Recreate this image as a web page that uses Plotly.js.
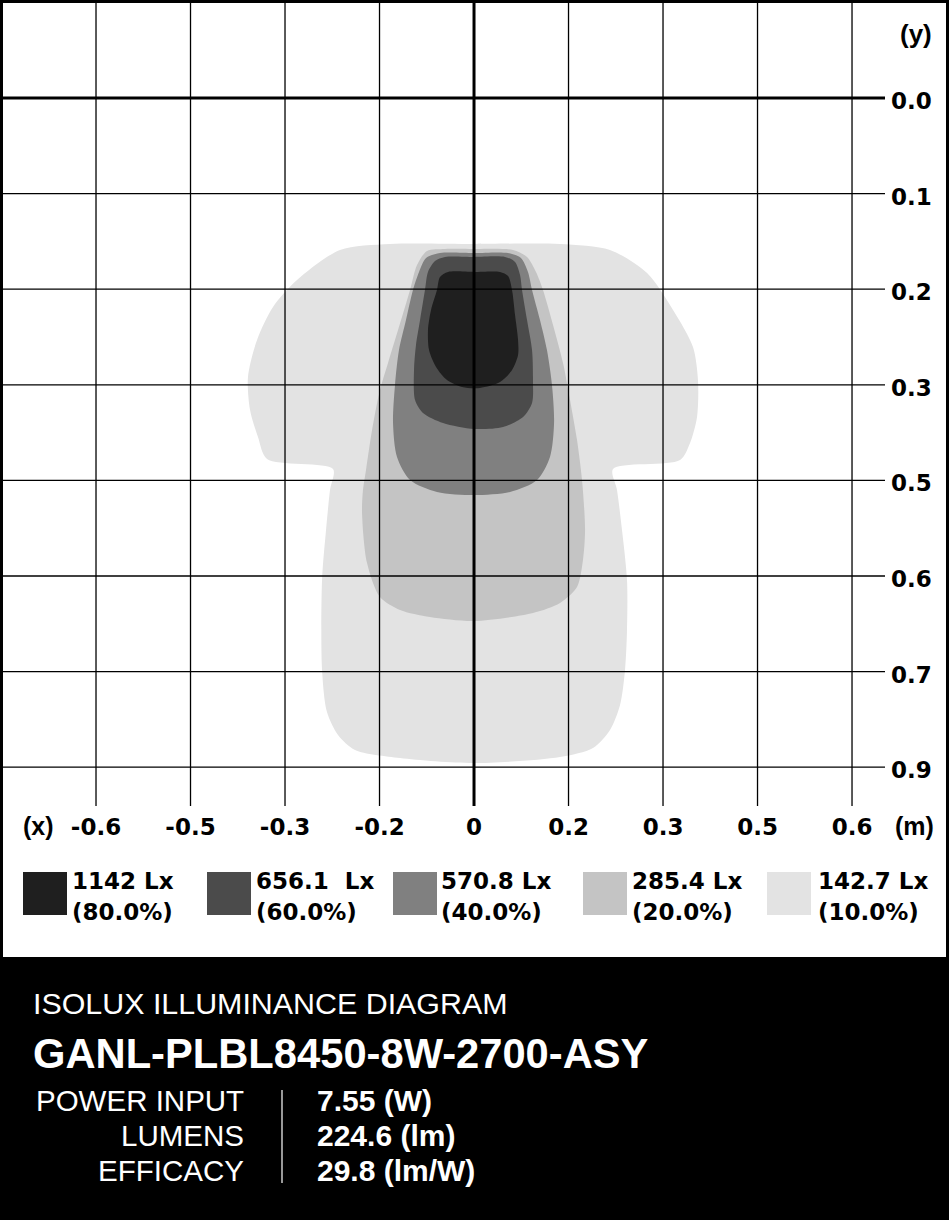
<!DOCTYPE html>
<html>
<head>
<meta charset="utf-8">
<script src="https://cdn.plot.ly/plotly-3.0.1.min.js"></script>
<style>html,body{margin:0;padding:0;background:#fff;}#chart{width:949px;height:1220px;}</style>
</head>
<body>
<div id="chart"></div>
<script>
// ---- Tick positions (grid index units) and labels ----
const xTickVals = [-4, -3, -2, -1, 0, 1, 2, 3, 4];
const xTickText = ['-0.6', '-0.5', '-0.3', '-0.2', '0', '0.2', '0.3', '0.5', '0.6'];
const yTickVals = [0, 1, 2, 3, 4, 5, 6, 7];
const yTickText = ['0.0', '0.1', '0.2', '0.3', '0.5', '0.6', '0.7', '0.9'];

// ---- Isolux contour outlines (grid index units) ----
const c10x = [0, 0.910, 1.439, 1.831, 2.106, 2.317, 2.370, 2.360, 2.286, 2.180, 1.471, 1.513, 1.566, 1.619, 1.619, 1.598, 1.545, 1.439, 1.259, 0.910, 0, -0.783, -1.259, -1.439, -1.556, -1.608, -1.608, -1.566, -1.524, -1.492, -2.190, -2.286, -2.370, -2.392, -2.296, -2.127, -1.873, -1.418, -0.889, 0];
const c10y = [1.527, 1.527, 1.590, 1.831, 2.218, 2.605, 2.950, 3.337, 3.609, 3.787, 3.881, 4.100, 4.519, 5.042, 5.565, 5.983, 6.349, 6.611, 6.799, 6.893, 6.956, 6.904, 6.820, 6.663, 6.423, 5.983, 5.042, 4.519, 4.100, 3.881, 3.776, 3.546, 3.264, 2.918, 2.531, 2.186, 1.904, 1.590, 1.527, 1.527];

const c20x = [0, 0.413, 0.561, 0.656, 0.730, 0.836, 0.942, 1.016, 1.090, 1.143, 1.175, 1.153, 1.090, 0.910, 0.624, 0, -0.466, -0.783, -0.995, -1.132, -1.185, -1.175, -1.143, -1.079, -0.995, -0.910, -0.804, -0.677, -0.603, -0.497, -0.307, 0];
const c20y = [1.579, 1.590, 1.663, 1.820, 2.008, 2.374, 2.772, 3.159, 3.577, 3.996, 4.519, 4.833, 5.115, 5.282, 5.387, 5.471, 5.429, 5.356, 5.220, 4.864, 4.341, 4.100, 3.891, 3.473, 3.054, 2.772, 2.427, 2.008, 1.747, 1.600, 1.579, 1.579];

const c40x = [0, 0.360, 0.497, 0.571, 0.614, 0.698, 0.772, 0.825, 0.847, 0.804, 0.667, 0.381, 0, -0.392, -0.677, -0.815, -0.857, -0.836, -0.794, -0.720, -0.646, -0.582, -0.508, -0.360, 0];
const c40y = [1.621, 1.621, 1.674, 1.820, 2.008, 2.322, 2.636, 3.002, 3.400, 3.755, 3.996, 4.121, 4.153, 4.121, 3.996, 3.755, 3.400, 3.002, 2.636, 2.322, 2.008, 1.820, 1.674, 1.621, 1.621];

const c60x = [0, 0.328, 0.434, 0.487, 0.508, 0.561, 0.614, 0.624, 0.614, 0.519, 0.307, 0, -0.328, -0.540, -0.624, -0.635, -0.614, -0.571, -0.519, -0.487, -0.413, -0.307, 0];
const c60y = [1.663, 1.663, 1.715, 1.851, 2.008, 2.322, 2.636, 2.950, 3.190, 3.337, 3.441, 3.462, 3.400, 3.295, 3.159, 2.845, 2.584, 2.322, 2.008, 1.820, 1.705, 1.663, 1.663];

const c80x = [0, 0.275, 0.360, 0.402, 0.434, 0.466, 0.466, 0.402, 0.275, 0.063, -0.127, -0.286, -0.402, -0.476, -0.487, -0.455, -0.392, -0.360, -0.275, 0];
const c80y = [1.820, 1.820, 1.862, 2.008, 2.270, 2.531, 2.688, 2.845, 2.971, 3.033, 3.023, 2.950, 2.814, 2.636, 2.427, 2.218, 2.008, 1.872, 1.820, 1.820];

// ---- Legend levels ----
const levelLux = ['1142 Lx', '656.1\u00a0 Lx', '570.8 Lx', '285.4 Lx', '142.7 Lx'];
const levelPct = ['(80.0%)', '(60.0%)', '(40.0%)', '(20.0%)', '(10.0%)'];
const levelColors = ['#1f1f1f', '#4b4b4b', '#808080', '#c4c4c4', '#e3e3e3'];

// ---- Info panel ----
const panelTitle = 'ISOLUX ILLUMINANCE DIAGRAM';
const productName = 'GANL-PLBL8450-8W-2700-ASY';
const specLabels = ['POWER INPUT', 'LUMENS', 'EFFICACY'];
const specValues = ['7.55 (W)', '224.6 (lm)', '29.8 (lm/W)'];

const W = 949, H = 1220;
const px = v => v / W;
const py = v => 1 - v / H;

const contours = [
  {x: c10x, y: c10y, c: levelColors[4]},
  {x: c20x, y: c20y, c: levelColors[3]},
  {x: c40x, y: c40y, c: levelColors[2]},
  {x: c60x, y: c60y, c: levelColors[1]},
  {x: c80x, y: c80y, c: levelColors[0]}
];
const traces = contours.map(k => ({
  type: 'scatter', mode: 'lines', x: k.x, y: k.y,
  fill: 'toself', fillcolor: k.c,
  line: {width: 0, color: k.c, shape: 'spline', smoothing: 0.8},
  hoverinfo: 'skip', showlegend: false
}));

const shapes = [];
// grid lines over the fills
xTickVals.forEach(v => shapes.push({type: 'line', xref: 'x', yref: 'y domain', x0: v, x1: v, y0: 0, y1: 1,
  line: {color: '#000', width: v === 0 ? 3 : 1.3}, layer: 'above'}));
yTickVals.forEach(v => shapes.push({type: 'line', xref: 'x domain', yref: 'y', x0: 0, x1: 1, y0: v, y1: v,
  line: {color: '#000', width: v === 0 ? 3 : 1.3}, layer: 'above'}));
// black info panel
shapes.push({type: 'rect', xref: 'paper', yref: 'paper', x0: 0, x1: 1, y0: 0, y1: py(957),
  fillcolor: '#000', line: {width: 0}, layer: 'below'});
// divider
shapes.push({type: 'line', xref: 'paper', yref: 'paper', x0: px(282), x1: px(282), y0: py(1090), y1: py(1183),
  line: {color: '#fff', width: 1.2}});
// outer frame
shapes.push({type: 'rect', xref: 'paper', yref: 'paper', x0: 0, x1: 1, y0: 0, y1: 1,
  fillcolor: 'rgba(0,0,0,0)', line: {color: '#000', width: 6}});

const FONT = 'Liberation Sans, Arial, sans-serif';
const WIDE = 'DejaVu Sans, Verdana, sans-serif';
const annotations = [];
const swX = [23, 207, 393, 583, 767];
const txX = [72, 256, 441, 632, 818];
levelLux.forEach((t, i) => {
  shapes.push({type: 'rect', xref: 'paper', yref: 'paper', x0: px(swX[i]), x1: px(swX[i] + 44), y0: py(915), y1: py(872),
    fillcolor: levelColors[i], line: {width: 0}});
  annotations.push({xref: 'paper', yref: 'paper', x: px(txX[i] - 2), y: py(881), xanchor: 'left', yanchor: 'middle',
    text: '<b>' + t + '</b>', showarrow: false, font: {family: WIDE, size: 23, color: '#000'}});
  annotations.push({xref: 'paper', yref: 'paper', x: px(txX[i] - 2), y: py(912), xanchor: 'left', yanchor: 'middle',
    text: '<b>' + levelPct[i] + '</b>', showarrow: false, font: {family: WIDE, size: 23, color: '#000'}});
});
annotations.push({xref: 'paper', yref: 'paper', x: px(38), y: py(826), xanchor: 'center', yanchor: 'middle',
  text: '<b>(x)</b>', showarrow: false, font: {family: FONT, size: 25, color: '#000'}});
annotations.push({xref: 'paper', yref: 'paper', x: px(914), y: py(826), xanchor: 'center', yanchor: 'middle',
  text: '<b>(m)</b>', showarrow: false, font: {family: FONT, size: 25, color: '#000'}});
annotations.push({xref: 'paper', yref: 'paper', x: px(916), y: py(34), xanchor: 'center', yanchor: 'middle',
  text: '<b>(y)</b>', showarrow: false, font: {family: FONT, size: 26, color: '#000'}});
annotations.push({xref: 'paper', yref: 'paper', x: px(31), y: py(1003), xanchor: 'left', yanchor: 'middle',
  text: panelTitle, showarrow: false, font: {family: FONT, size: 30.4, color: '#fff'}});
annotations.push({xref: 'paper', yref: 'paper', x: px(31), y: py(1053), xanchor: 'left', yanchor: 'middle',
  text: '<b>' + productName + '</b>', showarrow: false, font: {family: FONT, size: 41.7, color: '#fff'}});
const rowY = [1100, 1135, 1170];
specLabels.forEach((t, i) => {
  annotations.push({xref: 'paper', yref: 'paper', x: px(246), y: py(rowY[i]), xanchor: 'right', yanchor: 'middle',
    text: t, showarrow: false, font: {family: FONT, size: 29.5, color: '#fff'}});
  annotations.push({xref: 'paper', yref: 'paper', x: px(315), y: py(rowY[i]), xanchor: 'left', yanchor: 'middle',
    text: '<b>' + specValues[i] + '</b>', showarrow: false, font: {family: FONT, size: 30, color: '#fff'}});
});

const layout = {
  width: W, height: H,
  margin: {l: 0, r: 0, t: 0, b: 0, pad: 0},
  paper_bgcolor: '#fff', plot_bgcolor: '#fff',
  showlegend: false,
  xaxis: {domain: [0, 885 / W], range: [-5.016, 4.349], tickvals: xTickVals, ticktext: xTickText,
    showgrid: false, zeroline: false, showline: false, ticks: '', ticklabelstandoff: 5,
    tickfont: {family: WIDE, size: 23, color: '#000', weight: 'bold'}, fixedrange: true},
  yaxis: {domain: [1 - 806 / H, 1], range: [7.406, -1.025], tickvals: yTickVals, ticktext: yTickText,
    side: 'right', showgrid: false, zeroline: false, showline: false, ticks: '', ticklabelstandoff: 5,
    ticklabelshift: -3,
    tickfont: {family: WIDE, size: 23, color: '#000', weight: 'bold'}, fixedrange: true},
  shapes: shapes,
  annotations: annotations
};

Plotly.newPlot('chart', traces, layout, {staticPlot: true, displayModeBar: false});
</script>
</body>
</html>
